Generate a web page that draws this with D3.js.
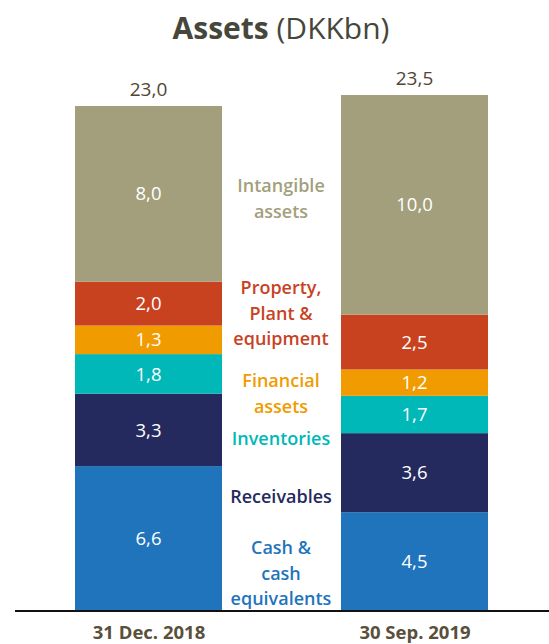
<!DOCTYPE html>
<html>
<head>
<meta charset="utf-8">
<script src="https://cdn.jsdelivr.net/npm/d3@7"></script>
<style>
  html, body { margin: 0; padding: 0; background: #fff; }
  svg { display: block; font-family: "Open Sans", "DejaVu Sans", sans-serif; }
</style>
</head>
<body>
<svg id="chart" width="549" height="644"></svg>
<script>
// Balance sheet asset composition, DKK billions
const periods = ["31 Dec. 2018", "30 Sep. 2019"];
const assetTypes = ["Cash & cash equivalents", "Receivables", "Inventories", "Financial assets", "Property, Plant & equipment", "Intangible assets"];
const values2018 = [6.6, 3.3, 1.8, 1.3, 2.0, 8.0];
const values2019 = [4.5, 3.6, 1.7, 1.2, 2.5, 10.0];
const totals = [23.0, 23.5];
const labelLines = [
  ["Cash &", "cash", "equivalents"],
  ["Receivables"],
  ["Inventories"],
  ["Financial", "assets"],
  ["Property,", "Plant &", "equipment"],
  ["Intangible", "assets"]
];
const colors = ["#1f74bb", "#252a5e", "#00b8b8", "#f09c00", "#c9421f", "#a39f7c"];

const svg = d3.select("#chart");
const W = 549, baseY = 611;

const barX = [75, 341];
const barW = 147;
const y = d3.scaleLinear().domain([0, 23]).range([baseY, 106]);
const xPos = d3.scaleOrdinal().domain(periods).range(barX);

const fmt = v => d3.format(".1f")(v).replace(".", ",");

const rows = [values2018, values2019].map((vals, i) => {
  const obj = { period: periods[i] };
  assetTypes.forEach((k, j) => obj[k] = vals[j]);
  return obj;
});
const series = d3.stack().keys(assetTypes)(rows);

// Stacked segments with their values
series.forEach((s, j) => {
  const g = svg.append("g");
  g.selectAll("rect").data(s).join("rect")
    .attr("x", d => xPos(d.data.period))
    .attr("width", barW)
    .attr("y", d => y(d[1]))
    .attr("height", d => y(d[0]) - y(d[1]))
    .attr("fill", colors[j]);
  g.selectAll("text").data(s).join("text")
    .attr("x", d => xPos(d.data.period) + barW / 2)
    .attr("y", d => (y(d[0]) + y(d[1])) / 2)
    .attr("dy", "0.36em")
    .attr("text-anchor", "middle")
    .attr("fill", "#fff")
    .attr("font-size", 18.5)
    .attr("font-weight", 500)
    .text(d => fmt(d[1] - d[0]));
});

// Totals above bars
svg.selectAll(".total").data(periods).join("text")
  .attr("class", "total")
  .attr("x", p => xPos(p) + barW / 2)
  .attr("y", (p, i) => y(totals[i]) - 17)
  .attr("dy", "0.36em")
  .attr("text-anchor", "middle")
  .attr("fill", "#4f4634")
  .attr("font-size", 19)
  .attr("font-weight", 500)
  .text((p, i) => fmt(totals[i]));

// Baseline
svg.append("line")
  .attr("x1", 15).attr("x2", W)
  .attr("y1", baseY).attr("y2", baseY)
  .attr("stroke", "#111").attr("stroke-width", 2);

// Category axis labels
const xAxis = d3.axisBottom(d3.scalePoint().domain(periods).range([barX[0] + barW / 2, barX[1] + barW / 2]))
  .tickSize(0).tickPadding(0);
const ax = svg.append("g").attr("transform", `translate(0,${baseY})`).call(xAxis);
ax.select(".domain").remove();
ax.selectAll("text")
  .attr("y", 21).attr("dy", "0.36em")
  .attr("font-size", 18.5).attr("font-weight", "bold")
  .attr("font-family", "\"Open Sans\", \"DejaVu Sans\", sans-serif")
  .attr("fill", "#5a4f3a");

// Legend labels between the bars
const labelX = 281;
const labelTops = [548, 497, 439, 381, 288, 186];
labelLines.forEach((lines, j) => {
  const t = svg.append("text")
    .attr("text-anchor", "middle")
    .attr("fill", colors[j])
    .attr("font-size", 18)
    .attr("font-weight", 600);
  lines.forEach((ln, k) => {
    t.append("tspan").attr("x", labelX).attr("y", labelTops[j] + k * 25.5).attr("dy", "0.36em").text(ln);
  });
});

// Title
const title = svg.append("text")
  .attr("x", 281).attr("y", 39)
  .attr("text-anchor", "middle")
  .attr("fill", "#46463a")
  .attr("font-size", 30);
title.append("tspan").attr("font-weight", "bold").text("Assets");
title.append("tspan").text(" (DKKbn)");
</script>
</body>
</html>
